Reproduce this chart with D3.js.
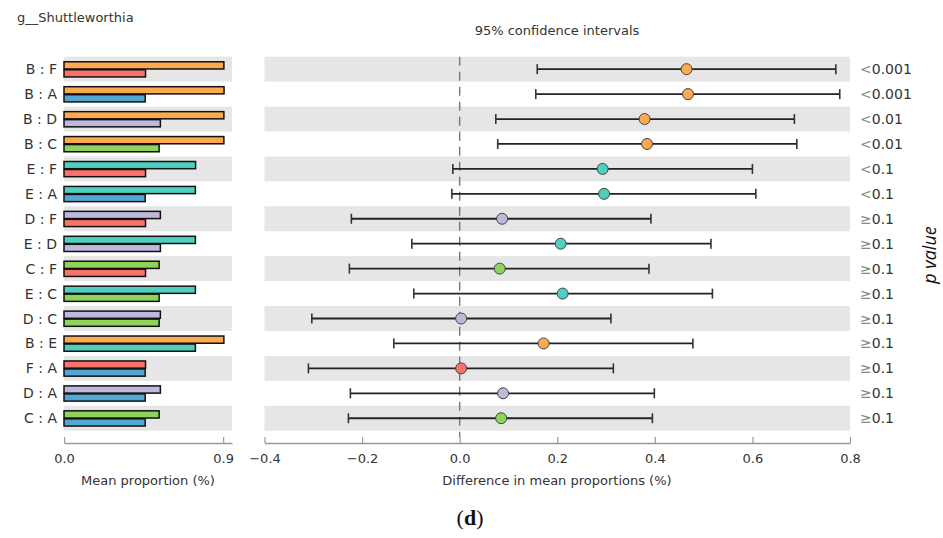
<!DOCTYPE html>
<html><head><meta charset="utf-8">
<script src="https://cdn.jsdelivr.net/npm/d3@7"></script>
<style>body{margin:0;background:#fff}svg{display:block}</style>
</head><body>
<svg id="c" width="943" height="538"></svg>
<script>
// ---- data ----
const comparisons = ["B : F","B : A","B : D","B : C","E : F","E : A","D : F","E : D","C : F","E : C","D : C","B : E","F : A","D : A","C : A"];
const group1 = ["B","B","B","B","E","E","D","E","C","E","D","B","F","D","C"];
const group2 = ["F","A","D","C","F","A","F","D","F","C","C","E","A","A","A"];
const mean1 = [0.904,0.905,0.904,0.904,0.744,0.743,0.545,0.743,0.538,0.743,0.545,0.904,0.461,0.545,0.538];
const mean2 = [0.461,0.459,0.545,0.538,0.461,0.459,0.461,0.545,0.461,0.538,0.538,0.743,0.459,0.459,0.459];
const diff  = [0.465,0.468,0.379,0.384,0.293,0.296,0.087,0.207,0.082,0.211,0.003,0.172,0.003,0.089,0.085];
const ciLow = [0.159,0.156,0.074,0.078,-0.014,-0.016,-0.222,-0.098,-0.226,-0.094,-0.303,-0.135,-0.310,-0.224,-0.228];
const ciHigh= [0.771,0.779,0.686,0.691,0.600,0.607,0.392,0.515,0.388,0.518,0.310,0.478,0.315,0.399,0.395];
const pSym  = ["<","<","<","<","<","<","≥","≥","≥","≥","≥","≥","≥","≥","≥"];
const pVal  = ["0.001","0.001","0.01","0.01","0.1","0.1","0.1","0.1","0.1","0.1","0.1","0.1","0.1","0.1","0.1"];
const groupColors = {A:"#52a8d2",B:"#fda94f",C:"#8fd35b",D:"#bdb8dc",E:"#4fcfc0",F:"#f8736b"};
const leftTicks = [0.0, 0.9];
const rightTicks = [-0.4,-0.2,0.0,0.2,0.4,0.6,0.8];

// ---- layout ----
const svg = d3.select("#c");
const font = "DejaVu Sans, sans-serif";
const txt = "#333";
const bandTop = 56.7, bandBot = 430.7, axisY = 443;
const y = d3.scaleBand().domain(comparisons).range([bandTop, bandBot]).padding(0);
const xL = d3.scaleLinear().domain([0, 0.95]).range([64, 232]);
const xR = d3.scaleLinear().domain([-0.4, 0.8]).range([264.5, 850]);

// background bands
comparisons.forEach((c,i)=>{
  if(i%2===0){
    svg.append("rect").attr("x",xL.range()[0]).attr("y",y(c)).attr("width",xL.range()[1]-xL.range()[0]).attr("height",y.bandwidth()).attr("fill","#e6e6e6");
    svg.append("rect").attr("x",xR.range()[0]).attr("y",y(c)).attr("width",xR.range()[1]-xR.range()[0]).attr("height",y.bandwidth()).attr("fill","#e6e6e6");
  }
});

// titles
svg.append("text").attr("x",17).attr("y",22).attr("font-family",font).attr("font-size",13).attr("fill",txt).text("g__Shuttleworthia");
svg.append("text").attr("x",557).attr("y",35).attr("text-anchor","middle").attr("font-family",font).attr("font-size",13).attr("fill",txt).text("95% confidence intervals");

// row labels
svg.append("g").selectAll("text").data(comparisons).join("text")
  .attr("x",57).attr("y",d=>y(d)+y.bandwidth()/2+5).attr("text-anchor","end")
  .attr("font-family",font).attr("font-size",14).attr("fill",txt).text(d=>d);

// left bars
const bh = 7.2;
const gb = svg.append("g");
comparisons.forEach((c,i)=>{
  const cy = y(c)+y.bandwidth()/2;
  gb.append("rect").attr("x",xL(0)).attr("y",cy-bh-0.2).attr("width",xL(mean1[i])-xL(0)).attr("height",bh)
    .attr("fill",groupColors[group1[i]]).attr("stroke","#111").attr("stroke-width",1.5);
  gb.append("rect").attr("x",xL(0)).attr("y",cy+0.6).attr("width",xL(mean2[i])-xL(0)).attr("height",bh)
    .attr("fill",groupColors[group2[i]]).attr("stroke","#111").attr("stroke-width",1.5);
});

// axes
function drawAxis(scale, ticks, fmt){
  const g = svg.append("g").attr("transform",`translate(0,${axisY})`);
  const ax = d3.axisBottom(scale).tickValues(ticks).tickSize(-6).tickSizeOuter(0).tickPadding(11).tickFormat(fmt);
  g.call(ax);
  g.select(".domain").attr("stroke","#999").attr("stroke-width",1.5);
  g.selectAll(".tick line").attr("stroke","#999").attr("stroke-width",1.2);
  g.selectAll(".tick text").attr("font-family",font).attr("font-size",13).attr("fill",txt);
  return g;
}
drawAxis(xL, leftTicks, d3.format(".1f"));
drawAxis(xR, rightTicks, d=> (d<0?"−":"")+Math.abs(d).toFixed(1));

svg.append("text").attr("x",148).attr("y",485).attr("text-anchor","middle").attr("font-family",font).attr("font-size",13).attr("fill",txt).text("Mean proportion (%)");
svg.append("text").attr("x",557).attr("y",485).attr("text-anchor","middle").attr("font-family",font).attr("font-size",13).attr("fill",txt).text("Difference in mean proportions (%)");

// zero dashed line
svg.append("line").attr("x1",xR(0)).attr("x2",xR(0)).attr("y1",bandTop).attr("y2",axisY-6)
  .attr("stroke","#777").attr("stroke-width",1.4).attr("stroke-dasharray","9,6");

// CI
const gc = svg.append("g");
comparisons.forEach((c,i)=>{
  const cy = y(c)+y.bandwidth()/2;
  gc.append("line").attr("x1",xR(ciLow[i])).attr("x2",xR(ciHigh[i])).attr("y1",cy).attr("y2",cy).attr("stroke","#222").attr("stroke-width",1.8);
  [ciLow[i],ciHigh[i]].forEach(v=>{
    gc.append("line").attr("x1",xR(v)).attr("x2",xR(v)).attr("y1",cy-5).attr("y2",cy+5).attr("stroke","#333").attr("stroke-width",1.6);
  });
  gc.append("circle").attr("cx",xR(diff[i])).attr("cy",cy).attr("r",5.5)
    .attr("fill",groupColors[diff[i]>=0?group1[i]:group2[i]]).attr("stroke","#444").attr("stroke-width",1);
});

// p values
const gp = svg.append("g");
comparisons.forEach((c,i)=>{
  const t = gp.append("text").attr("x",860).attr("y",y(c)+y.bandwidth()/2+5).attr("font-family",font).attr("font-size",14).attr("fill",txt);
  t.append("tspan").attr("fill","#888").text(pSym[i]);
  t.append("tspan").text(pVal[i]);
});
svg.append("text").attr("transform","translate(936,255) rotate(-90)").attr("text-anchor","middle")
  .attr("font-family","Open Sans, sans-serif").attr("font-style","italic").attr("font-size",18).attr("fill","#111").text("p value");

// panel label
const lab = svg.append("text").attr("x",470).attr("y",525).attr("text-anchor","middle").attr("font-family","Liberation Serif, serif").attr("font-size",22).attr("fill","#111");
lab.append("tspan").text("(");
lab.append("tspan").attr("font-weight","bold").text("d");
lab.append("tspan").text(")");
</script>
</body></html>
